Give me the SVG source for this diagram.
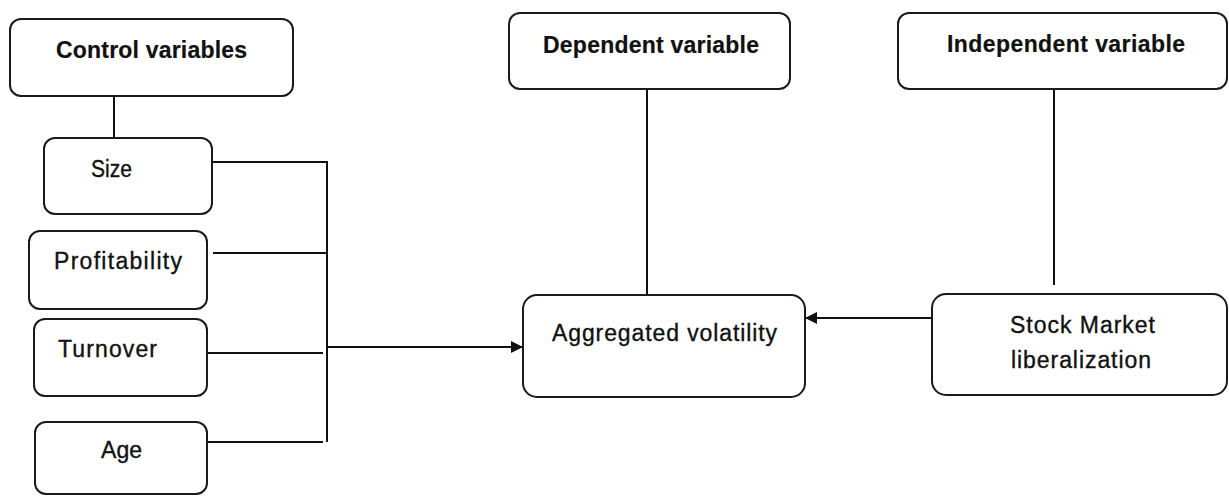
<svg xmlns="http://www.w3.org/2000/svg" width="1229" height="496" viewBox="0 0 1229 496">
<style>
.box{fill:#fff;stroke:#1a1a1a;stroke-width:2}
.t{font-family:"Liberation Sans",Arial,sans-serif;font-size:23px;fill:#111;stroke:#111;stroke-width:0.35}
.b{font-weight:bold;stroke-width:0.2}
.ln{fill:none;stroke:#111;stroke-width:2}
</style>
<defs>
<marker id="ah" viewBox="0 0 12 12" refX="12" refY="6" markerWidth="12" markerHeight="12" markerUnits="userSpaceOnUse" orient="auto">
<path d="M0,0 L12,6 L0,12 Z" fill="#111"/>
</marker>
</defs>
<rect width="1229" height="496" fill="#fff"/>
<g id="connectors">
<path class="ln" d="M114,96 V138"/>
<path class="ln" d="M212,162 H327 V442"/>
<path class="ln" d="M213,253 H327"/>
<path class="ln" d="M207,353 H323"/>
<path class="ln" d="M207,442 H323"/>
<path class="ln" d="M327,347 H523" marker-end="url(#ah)"/>
<path class="ln" d="M647,89 V295"/>
<path class="ln" d="M1054,89 V285"/>
<path class="ln" d="M932,318 H805" stroke-width="3" marker-end="url(#ah)"/>
</g>
<g id="control">
<rect class="box" x="10" y="19" width="283" height="77" rx="11"/>
<text class="t b" x="56" y="58" textLength="191">Control variables</text>
</g>
<g id="size">
<rect class="box" x="44" y="138" width="168" height="76" rx="11"/>
<text class="t" x="91" y="177" textLength="41" lengthAdjust="spacingAndGlyphs">Size</text>
</g>
<g id="profitability">
<rect class="box" x="29" y="231" width="178" height="78" rx="11"/>
<text class="t" x="54" y="269" textLength="128">Profitability</text>
</g>
<g id="turnover">
<rect class="box" x="34" y="319" width="173" height="77" rx="11"/>
<text class="t" x="58" y="357" textLength="99">Turnover</text>
</g>
<g id="age">
<rect class="box" x="35" y="422" width="172" height="72" rx="11"/>
<text class="t" x="101" y="458" textLength="41">Age</text>
</g>
<g id="dependent">
<rect class="box" x="509" y="13" width="281" height="76" rx="11"/>
<text class="t b" x="543" y="53" textLength="216">Dependent variable</text>
</g>
<g id="independent">
<rect class="box" x="898" y="13" width="329" height="76" rx="11"/>
<text class="t b" x="947" y="52" textLength="238">Independent variable</text>
</g>
<g id="aggregated">
<rect class="box" x="523" y="295" width="282" height="102" rx="14"/>
<text class="t" x="552" y="341" font-size="24" textLength="225">Aggregated volatility</text>
</g>
<g id="stock">
<rect class="box" x="932" y="294" width="295" height="101" rx="14"/>
<text class="t" x="1010" y="333" textLength="145">Stock Market</text>
<text class="t" x="1011" y="368" textLength="140">liberalization</text>
</g>
</svg>
